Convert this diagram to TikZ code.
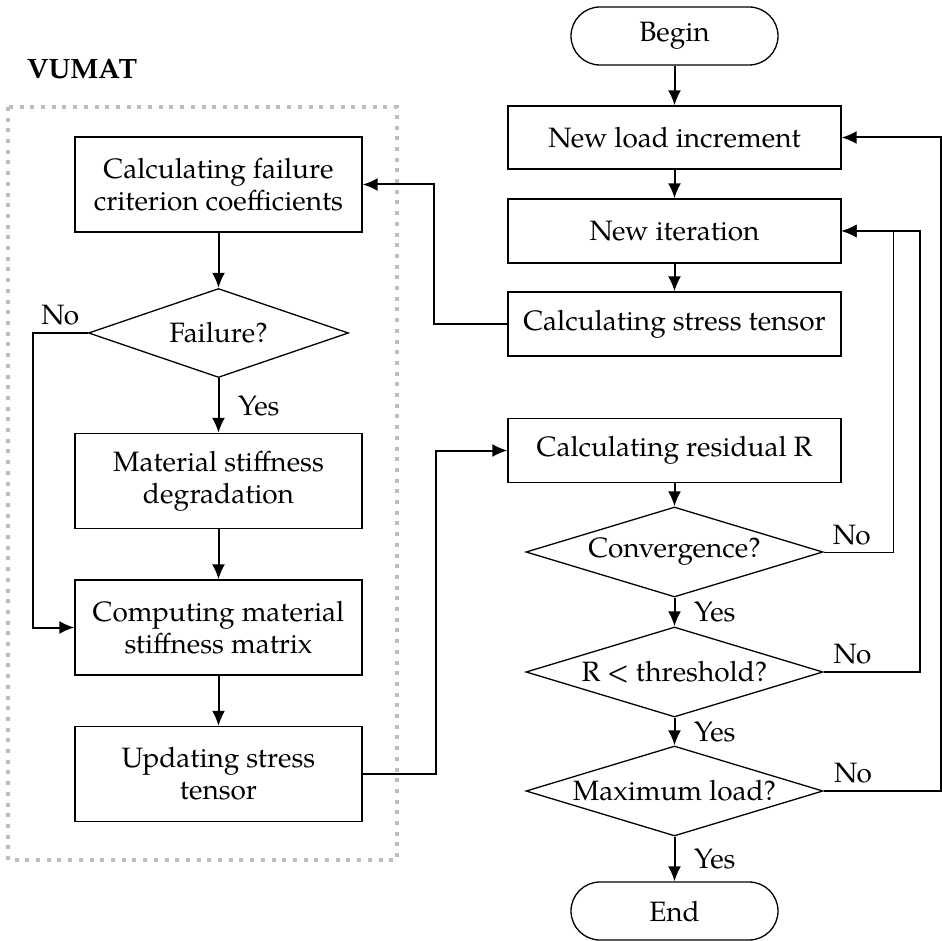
\documentclass[tikz,border=0pt]{standalone}
\usepackage{fontspec}
\setmainfont{TeX Gyre Pagella}
\usetikzlibrary{arrows.meta,shapes.geometric}
\definecolor{framegray}{RGB}{190,190,190}

\tikzset{
  block/.style={draw, rectangle, line width=0.65pt, align=center, minimum width=143.5pt, minimum height=47.5pt, inner sep=2pt},
  wideblock/.style={block, minimum width=166.5pt, minimum height=32pt},
  decision/.style={draw, diamond, line width=0.65pt, shape aspect=3.3, inner sep=0pt, minimum width=148.5pt, minimum height=45pt},
  terminal/.style={draw, rectangle, rounded corners=14.5pt, line width=0.65pt, minimum width=103.5pt, minimum height=29pt},
  flow/.style={->, line width=1pt},
  yes/.style={right, xshift=6pt},
  no/.style={above}
}

\begin{document}
\begin{tikzpicture}[x=0.5pt, y=-0.5pt, >={Latex[length=7.5pt,width=6.5pt]}, font=\fontsize{14}{16}\selectfont]
  \useasboundingbox (0,0) rectangle (942,941);

  % VUMAT frame
  \node[font=\fontsize{14}{16}\selectfont\bfseries] (vumat) at (82,69) {VUMAT};
  \draw[framegray, line width=2pt, dash pattern=on 2pt off 3.35pt] (8,107) rectangle (397,860);

  % Define blocks (VUMAT)
  \node[block] (fc) at (218.5,184.5) {Calculating failure\\criterion coefficients};
  \node[decision, minimum width=130pt, minimum height=44.5pt] (fail) at (218.5,333) {Failure?};
  \node[block] (deg) at (218.5,481) {Material stiffness\\degradation};
  \node[block] (stiff) at (218.5,627.5) {Computing material\\stiffness matrix};
  \node[block] (upd) at (218.5,774) {Updating stress\\tensor};

  % Define blocks (solver)
  \node[terminal] (begin) at (674.5,36) {Begin};
  \node[wideblock, minimum height=31.5pt] (load) at (674.5,137.5) {New load increment};
  \node[wideblock] (iter) at (674.5,231) {New iteration};
  \node[wideblock] (stress) at (674.5,324) {Calculating stress tensor};
  \node[wideblock] (resid) at (674.5,450.5) {Calculating residual R};
  \node[decision] (conv) at (674.5,552) {Convergence?};
  \node[decision] (thr) at (674.5,672) {R < threshold?};
  \node[decision] (maxl) at (674.5,791) {Maximum load?};
  \node[terminal] (end) at (674.5,911) {End};

  % Connect blocks
  \draw[flow] (begin) -- (load);
  \draw[flow] (load) -- (iter);
  \draw[flow] (iter) -- (stress);
  \draw[flow] (stress.west) -- ++(-73,0) |- (fc.east);
  \draw[flow] (fc) -- (fail);
  \draw[flow] (fail) -- node[yes] {Yes} (deg);
  \draw[flow] (fail.west) -- node[no, pos=.5] {No} ++(-55,0) |- (stiff.west);
  \draw[flow] (deg) -- (stiff);
  \draw[flow] (stiff) -- (upd);
  \draw[flow] (upd.east) -- ++(73,0) |- (resid.west);
  \draw[flow] (resid) -- (conv);
  \draw[flow] (conv) -- node[yes] {Yes} (thr);
  \draw[flow] (thr) -- node[yes] {Yes} (maxl);
  \draw[flow] (maxl) -- node[yes] {Yes} (end);

  % Feedback loops
  \draw[->, line width=0.5pt] (conv.east) -- node[no, pos=.4] {No} ++(70,0) |- (iter.east);
  \draw[flow] (thr.east) -- node[no, pos=.3] {No} ++(96,0) |- (iter.east);
  \draw[flow] (maxl.east) -- node[no, pos=.25] {No} ++(117,0) |- (load.east);
\end{tikzpicture}
\end{document}
